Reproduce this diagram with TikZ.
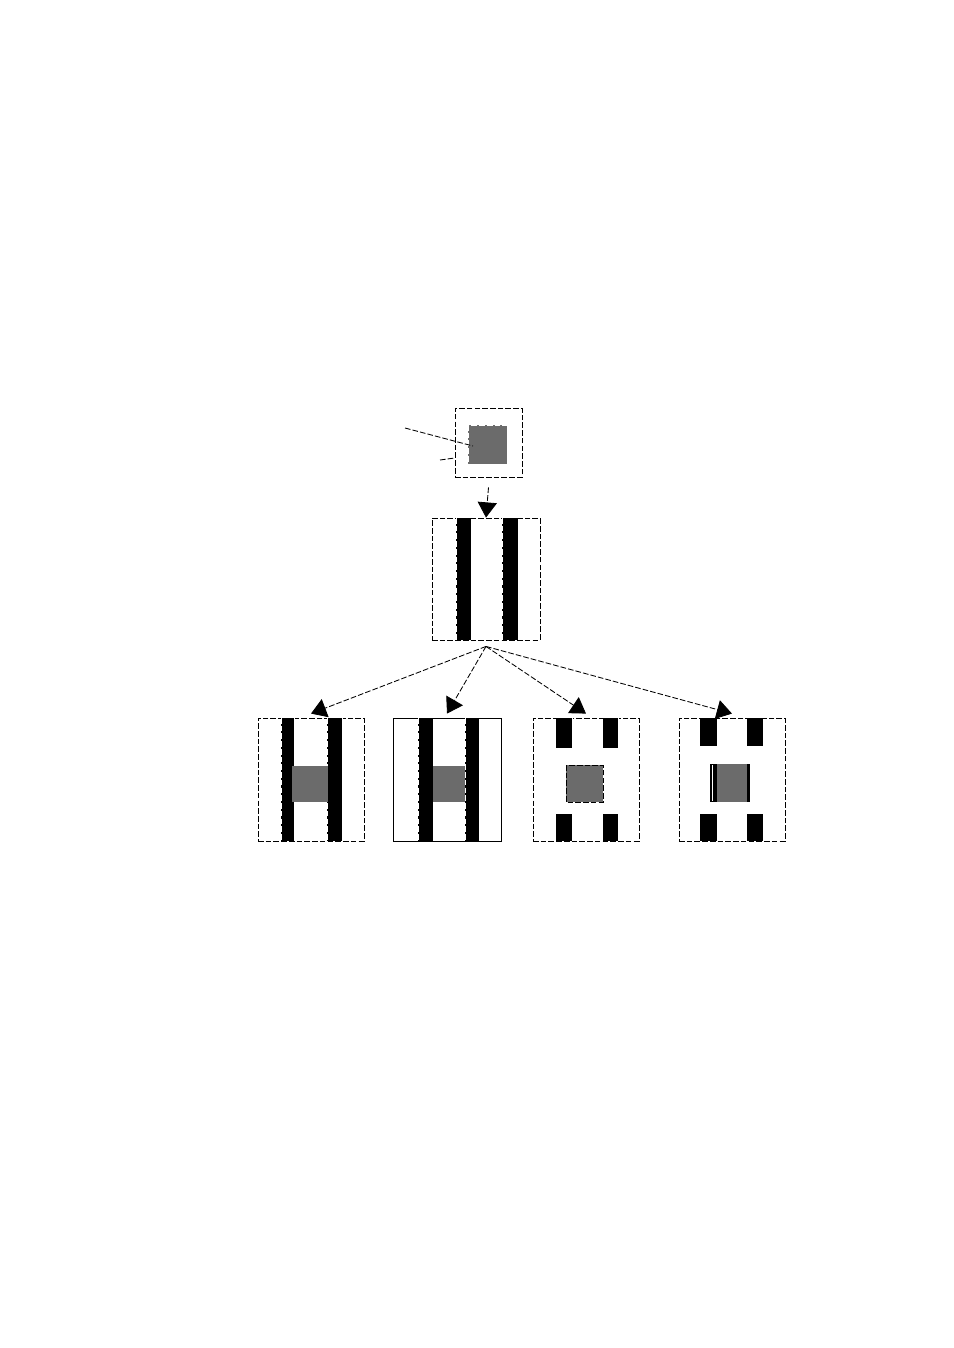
\documentclass[tikz,border=0pt]{standalone}
\usepackage{tikz}
\usetikzlibrary{arrows.meta,positioning}
\definecolor{cellgray}{RGB}{107,107,107}

\begin{document}
\begin{tikzpicture}[x=0.25mm,y=-0.25mm,
  dashln/.style={line width=0.6pt, dash pattern=on 4pt off 1.5pt},
  edgeln/.style={white, line width=0.35pt, dash pattern=on 4pt off 1.5pt},
  cellbox/.style={draw, dashln, minimum width=26.5mm, minimum height=30.75mm, inner sep=0pt},
  flow/.style={dashln, -{Triangle[length=3.8mm,width=4.8mm]}}]
\useasboundingbox (0,0) rectangle (954,1348);
% source cell
\node[draw, dashln, minimum width=16.75mm, minimum height=17.25mm, inner sep=0pt] (src) at (488.5,442.5) {};
\fill[cellgray] (468,425) rectangle (507,464);
\draw[edgeln] (468,425) rectangle (507,464);
\coordinate (leadA) at (405,428);
\coordinate (leadB) at (440,460);
\draw[dashln] (leadA) -- (473,446);
\draw[dashln] (leadB) -- (src.west |- 0,458);
% striped cell
\node[draw, dashln, minimum width=27mm, minimum height=30.5mm, inner sep=0pt] (mid) at (486,579) {};
\foreach \a/\b in {456/471, 502/518} {
  \fill (\a,518) rectangle (\b,640);
  \draw[edgeln] (\a,518) -- (\a,640);
}
\draw[flow] ([yshift=-2.5mm]src.south) -- (mid.north);
% results
\node[cellbox] (resA) at (311,779.5) {};
\node[draw, line width=0.6pt, minimum width=27mm, minimum height=30.75mm, inner sep=0pt] (resB) at (447,779.5) {};
\node[cellbox] (resC) at (586,779.5) {};
\node[cellbox] (resD) at (732,779.5) {};
% A: full stripes
\foreach \a/\b in {281/294, 327/342} {
  \fill (\a,718) rectangle (\b,841);
  \draw[edgeln] (\a,718) -- (\a,841) (\b,718) -- (\b,841);
}
\fill[cellgray] (292,766) rectangle (328,802);
% B: full stripes
\foreach \a/\b in {418/433, 465/479} {
  \fill (\a,718) rectangle (\b,841);
  \draw[edgeln] (\a,718) -- (\a,841);
}
\fill[cellgray] (433,766) rectangle (465,802);
% C: cut stripes
\foreach \a/\b in {556/572, 603/618} {
  \fill (\a,718) rectangle (\b,748);
  \fill (\a,814) rectangle (\b,841);
  \draw[edgeln] (\b,718) -- (\b,748) (\b,814) -- (\b,841);
}
\fill[cellgray] (566,765) rectangle (603,802);
\draw[dashln] (566,765) rectangle (603,802);
% D: cut stripes, shifted core
\foreach \a/\b in {700/717, 747/763} {
  \fill (\a,718) rectangle (\b,746);
  \fill (\a,814) rectangle (\b,841);
}
\fill (710,764) rectangle (750,802);
\fill[cellgray] (717,764) rectangle (747,802);
\draw[white, line width=0.4pt] (712,765) -- (712,801);
% arrows
\foreach \r in {resA, resB, resC, resD}
  \draw[flow] ([yshift=-1.5mm]mid.south) -- ([yshift=1mm]\r.north);
\end{tikzpicture}
\end{document}
